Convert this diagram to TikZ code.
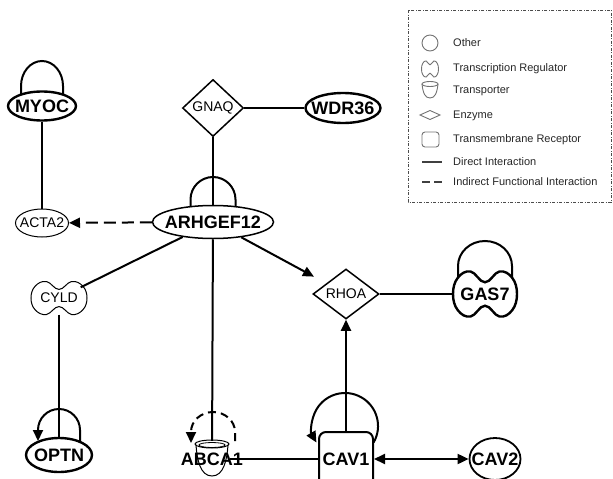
\documentclass[tikz,border=0pt]{standalone}
\usepackage{fontspec}
\setmainfont{Liberation Sans}
\usetikzlibrary{arrows.meta,shapes.geometric,calc}
% zero-width label, so the shape size comes from minimum width/height only
\newcommand\zw[1]{\makebox[0pt]{#1}}
% two-lobed outline of a transcription regulator: #1 shift, #2 half width, #3 half height, #4 style
\newcommand\tregdraw[4]{%
  \draw[#4, shift={#1}] plot[smooth cycle, tension=0.7] coordinates {
    (0,{0.52*#3}) ({0.45*#2},#3) ({0.85*#2},{0.72*#3}) (#2,0) ({0.85*#2},{-0.72*#3})
    ({0.45*#2},-#3) (0,{-0.52*#3}) ({-0.45*#2},-#3) ({-0.85*#2},{-0.72*#3}) (-#2,0)
    ({-0.85*#2},{0.72*#3}) ({-0.45*#2},#3)};}
\begin{document}
\begin{tikzpicture}[x=1pt,y=-1pt,
  edge/.style={line width=2pt, draw=black},
  tip/.style={-{Triangle[length=11pt,width=10pt]}},
  gene/.style={font=\fontsize{18}{20}\selectfont\bfseries, inner sep=0pt},
  sym/.style={font=\fontsize{14}{16}\selectfont, inner sep=0pt},
  oval/.style={ellipse, draw, inner sep=0pt},
  enz/.style={diamond, draw, inner sep=0pt},
  legicon/.style={draw=black!55, line width=0.9pt},
  legtxt/.style={font=\fontsize{11}{13}\selectfont, anchor=west, inner sep=0pt, text=black!85}]
\useasboundingbox (0,0) rectangle (613,479);

% ---------- molecules ----------
\node[oval, gene, line width=2.4pt, minimum width=68, minimum height=29] (myoc) at (42,106) {\zw{MYOC}};
\node[oval, sym, line width=1pt, minimum width=53, minimum height=28] (acta2) at (42,223) {\zw{ACTA2}};
\node[oval, gene, line width=1.5pt, minimum width=121, minimum height=33] (arh) at (213,222) {\zw{ARHGEF12}};
\node[enz, sym, line width=1.5pt, minimum width=61, minimum height=57] (gnaq) at (213,108) {\zw{GNAQ}};
\node[oval, gene, line width=2.4pt, minimum width=75, minimum height=30] (wdr36) at (343,108) {\zw{WDR36}};
\node[ellipse, sym, inner sep=0pt, minimum width=56, minimum height=33] (cyld) at (59,298) {\zw{CYLD}};
\tregdraw{(cyld.center)}{28}{16.5}{line width=1pt}
\node[oval, gene, line width=2.4pt, minimum width=66, minimum height=34] (optn) at (59,455) {\zw{OPTN}};
\node[enz, sym, line width=1.5pt, minimum width=66, minimum height=50] (rhoa) at (346,294) {\zw{RHOA}};
\node[ellipse, gene, inner sep=0pt, minimum width=64, minimum height=45] (gas7) at (485,294) {\zw{GAS7}};
\tregdraw{(gas7.center)}{32}{22.5}{line width=2.4pt}
\node[draw, gene, line width=2pt, rounded corners=7pt, minimum width=54, minimum height=54] (cav1) at (346,459) {\zw{CAV1}};
\node[oval, gene, line width=1.8pt, minimum width=51, minimum height=42] (cav2) at (495,459) {\zw{CAV2}};
\node[rectangle, gene, minimum width=36, minimum height=36] (abca1) at (212,459) {\zw{ABCA1}};
% transporter cup behind the ABCA1 label
\draw[line width=1pt] ($(abca1.center)+(0,-15)$) ellipse[x radius=17, y radius=4];
\draw[line width=0.8pt] ($(abca1.center)+(0,-14)$) ellipse[x radius=13, y radius=2.5];
\draw[line width=1pt] ($(abca1.center)+(-16,-14)$) .. controls ++(1,14) and ++(-12,0) .. ($(abca1.center)+(0,17)$)
  .. controls ++(12,0) and ++(-1,14) .. ($(abca1.center)+(16,-14)$);

% ---------- interactions ----------
\draw[edge] (myoc) -- (acta2);
\draw[edge, tip, dash pattern=on 12pt off 6pt] (arh) -- (acta2);
\draw[edge] (gnaq) -- (wdr36);
\draw[edge] (gnaq) -- (arh);
\draw[edge] (arh) -- (cyld);
\draw[edge, tip, shorten >=14pt] (arh) -- (rhoa);
\draw[edge] (arh) -- (abca1);
\draw[edge] (cyld) -- (optn);
\draw[edge] (rhoa) -- (gas7);
\draw[edge, tip] (cav1) -- (rhoa);
\draw[edge] (cav1) -- (abca1);
\draw[edge, {Triangle[length=11pt,width=10pt]}-{Triangle[length=11pt,width=10pt]}] (cav1) -- (cav2);

% self interactions
\draw[edge] ($(myoc.center)+(-21,-11)$) -- ++(0,-9) arc[start angle=180, end angle=360, x radius=21, y radius=25] -- ++(0,9);
\draw[edge] ($(arh.center)+(-22.5,-15)$) -- ++(0,-7.5) arc[start angle=180, end angle=360, radius=22.5] -- ++(0,7.5);
\draw[edge] ($(gas7.center)+(-27,-16)$) -- ++(0,-12) arc[start angle=180, end angle=360, x radius=27, y radius=25] -- ++(0,12);
\draw[edge, tip] ($(optn.center)+(21,-13)$) -- ++(0,-12) arc[start angle=0, end angle=-180, radius=21] -- ++(0,11);
\draw[edge, tip, dash pattern=on 8pt off 5pt] ($(abca1.center)+(23,-18)$) -- ++(0,-9) arc[start angle=0, end angle=-180, x radius=22, y radius=20] -- ++(0,11);
\draw[edge, tip] ($(cav1.center)+(27.6,-16.5)$) arc[start angle=30, end angle=-210, radius=33];

% ---------- legend ----------
\draw[line width=0.6pt, black!70, dash pattern=on 3pt off 1.5pt on 1pt off 1.5pt] (408,10) rectangle (611,202);
\draw[legicon] (430,43) circle[radius=8];
\tregdraw{(430,69)}{8.5}{8}{legicon}
\draw[legicon] (430,84) ellipse[x radius=8, y radius=2.5];
\draw[legicon] (422,84) .. controls (423,93) and (425,98) .. (430,98) .. controls (435,98) and (437,93) .. (438,84);
\draw[legicon] (420,115) -- (430,110.5) -- (440,115) -- (430,119.5) -- cycle;
\draw[legicon, rounded corners=3pt] (422,132) rectangle (439,147);
\draw[line width=2.2pt, black!75] (422,162) -- (442,162);
\draw[line width=2.2pt, black!75, dash pattern=on 8pt off 4pt] (422,182) -- (442,182);
\node[legtxt] (leg-other) at (453,43) {Other};
\node[legtxt] (leg-treg) at (453,69) {Transcription Regulator};
\node[legtxt] (leg-trans) at (453,91) {Transporter};
\node[legtxt] (leg-enz) at (453,116) {Enzyme};
\node[legtxt] (leg-rec) at (453,140) {Transmembrane Receptor};
\node[legtxt] (leg-dir) at (453,162) {Direct Interaction};
\node[legtxt] (leg-ind) at (453,182) {Indirect Functional Interaction};
\end{tikzpicture}
\end{document}
